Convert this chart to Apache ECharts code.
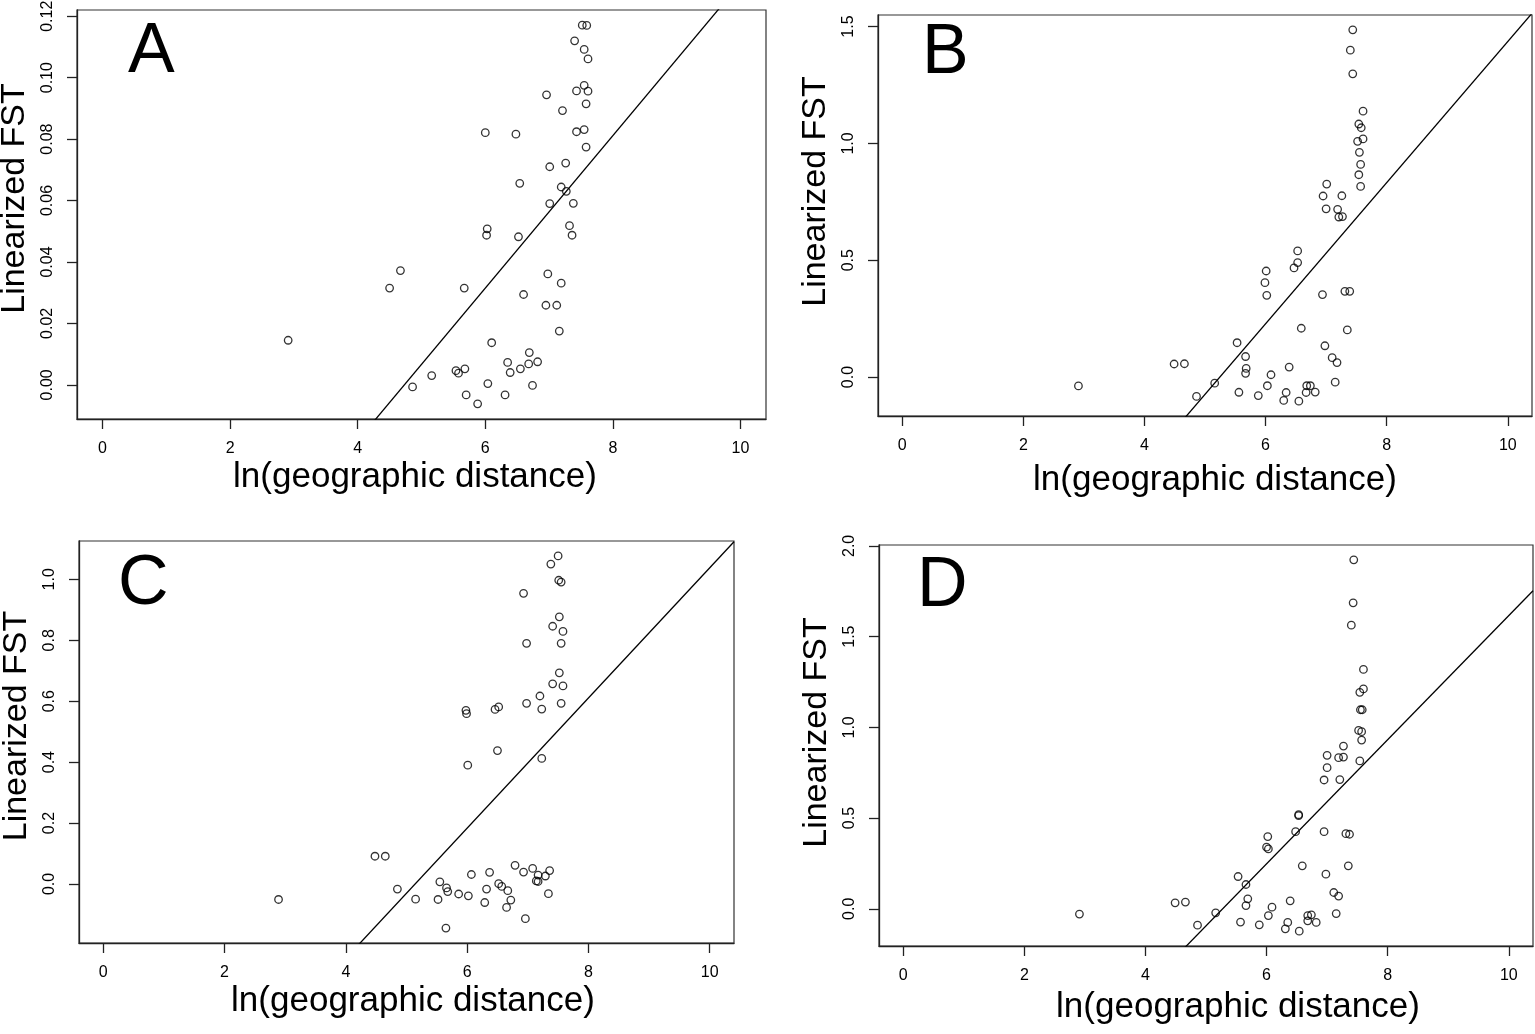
<!DOCTYPE html>
<html>
<head>
<meta charset="utf-8">
<script src="https://cdn.jsdelivr.net/npm/echarts@6/dist/echarts.min.js"></script>
<style>
	html, body { margin: 0; padding: 0; background: #fff; }
	#charts { width: 1535px; height: 1034px; }
</style>
</head>
<body>
<div id="charts"></div>
<script>
// [ln(geographic distance), linearized FST] pairs, one list per panel
const pointsA = [
	[2.91, 0.0145],
	[7.52, 0.1171], [7.59, 0.1170], [7.40, 0.1120], [7.55, 0.1092], [7.61, 0.1061],
	[7.55, 0.0975], [7.43, 0.0957], [7.61, 0.0956], [6.96, 0.0944], [7.58, 0.0915], [7.21, 0.0893],
	[6.00, 0.0821], [6.48, 0.0816], [7.43, 0.0824], [7.55, 0.0831], [7.58, 0.0774],
	[7.01, 0.0710], [7.26, 0.0722], [6.54, 0.0656], [7.19, 0.0644], [7.27, 0.0630], [7.01, 0.0590], [7.38, 0.0591],
	[6.03, 0.0508], [6.02, 0.0487], [6.52, 0.0482], [7.32, 0.0518], [7.36, 0.0487],
	[4.67, 0.0372], [4.50, 0.0315], [5.67, 0.0315], [6.98, 0.0361], [7.19, 0.0331], [6.60, 0.0294],
	[6.95, 0.0259], [7.12, 0.0259], [7.16, 0.0175],
	[6.10, 0.0137], [6.69, 0.0105], [6.35, 0.0073], [6.68, 0.0068], [6.82, 0.0075], [6.39, 0.0040],
	[6.55, 0.0052], [5.68, 0.0052], [5.54, 0.0046], [5.58, 0.0038], [5.16, 0.0030],
	[4.86, -0.0007], [6.04, 0.0004], [6.74, -0.0002], [5.70, -0.0033], [6.31, -0.0033], [5.88, -0.0062]
];
const pointsB = [
	[2.91, -0.038],
	[7.44, 1.486], [7.40, 1.399], [7.44, 1.298], [7.61, 1.138], [7.54, 1.083], [7.58, 1.067],
	[7.52, 1.009], [7.61, 1.019], [7.55, 0.962], [7.57, 0.910], [7.54, 0.866], [7.57, 0.816],
	[7.01, 0.826], [6.95, 0.775], [7.26, 0.776], [7.00, 0.720], [7.19, 0.718], [7.21, 0.685], [7.27, 0.687],
	[6.53, 0.540], [6.53, 0.490], [6.47, 0.467], [6.01, 0.454], [5.99, 0.404], [6.02, 0.350],
	[6.94, 0.353], [7.31, 0.367], [7.39, 0.367],
	[6.59, 0.209], [7.35, 0.202], [5.53, 0.147], [6.98, 0.134], [5.67, 0.088], [7.10, 0.083],
	[7.18, 0.062], [4.49, 0.056], [4.66, 0.057],
	[5.68, 0.037], [5.67, 0.016], [6.39, 0.043], [6.09, 0.010], [5.16, -0.026], [7.15, -0.022],
	[6.03, -0.037], [6.68, -0.037], [6.74, -0.037],
	[4.86, -0.083], [5.56, -0.065], [5.88, -0.079], [6.34, -0.066], [6.67, -0.066], [6.82, -0.064],
	[6.30, -0.100], [6.55, -0.103]
];
const pointsC = [
	[2.89, -0.051],
	[7.50, 1.077], [7.38, 1.050], [7.51, 0.997], [7.55, 0.991], [6.93, 0.954], [7.52, 0.877],
	[7.41, 0.846], [7.58, 0.829], [6.98, 0.790], [7.55, 0.790],
	[7.52, 0.693], [7.41, 0.657], [7.58, 0.650], [7.20, 0.617], [6.98, 0.593], [7.23, 0.574], [7.55, 0.593],
	[5.98, 0.570], [5.99, 0.559], [6.46, 0.573], [6.52, 0.581], [6.50, 0.438], [6.01, 0.390], [7.23, 0.412],
	[4.48, 0.091], [4.65, 0.091], [4.85, -0.017], [5.15, -0.050], [5.55, 0.007], [5.66, -0.013],
	[5.68, -0.025], [5.52, -0.051], [5.86, -0.033], [6.02, -0.039],
	[6.07, 0.031], [6.37, 0.038], [6.32, -0.017], [6.29, -0.061], [6.52, 0.001], [6.57, -0.008],
	[6.67, -0.022], [6.72, -0.053], [6.65, -0.077], [5.65, -0.145],
	[6.79, 0.061], [6.93, 0.039], [7.08, 0.051], [6.96, -0.114], [7.17, 0.029], [7.14, 0.010],
	[7.17, 0.008], [7.29, 0.026], [7.36, 0.044], [7.34, -0.032]
];
const pointsD = [
	[2.91, -0.029],
	[7.44, 1.923], [7.43, 1.686], [7.40, 1.563], [7.60, 1.319], [7.60, 1.212], [7.54, 1.193],
	[7.55, 1.097], [7.58, 1.097], [7.52, 0.983], [7.57, 0.976], [7.57, 0.930],
	[7.27, 0.897], [7.00, 0.846], [7.19, 0.833], [7.27, 0.836], [7.00, 0.778], [7.54, 0.815],
	[6.95, 0.710], [7.21, 0.712],
	[6.53, 0.519], [6.53, 0.514], [6.48, 0.425], [6.95, 0.425], [7.31, 0.414], [7.37, 0.411],
	[6.02, 0.398], [6.00, 0.340], [6.03, 0.330],
	[6.59, 0.237], [7.35, 0.237], [5.53, 0.178], [6.98, 0.191], [5.66, 0.134], [7.11, 0.090],
	[7.19, 0.070], [4.49, 0.033], [4.66, 0.037],
	[5.69, 0.055], [5.66, 0.018], [6.39, 0.044], [6.09, 0.009], [5.16, -0.022], [7.15, -0.026],
	[6.03, -0.037], [6.68, -0.037], [6.74, -0.033],
	[4.86, -0.090], [5.57, -0.073], [5.88, -0.088], [6.35, -0.075], [6.68, -0.066], [6.82, -0.075],
	[6.31, -0.110], [6.54, -0.123]
];

// regression lines (abline) per panel
const fitIntercept = [-0.1175, -1.584, -1.099, -1.804];
const fitSlope = [0.02483, 0.302, 0.2137, 0.342];

const xLimits = [0, 10];
const xTicks = [0, 2, 4, 6, 8, 10];
const yTicksA = [0, 0.02, 0.04, 0.06, 0.08, 0.10, 0.12];
const yTicksB = [0, 0.5, 1.0, 1.5];
const yTicksC = [0, 0.2, 0.4, 0.6, 0.8, 1.0];
const yTicksD = [0, 0.5, 1.0, 1.5, 2.0];
const panelLetters = ['A', 'B', 'C', 'D'];

const FONT = '"Liberation Sans", Arial, Helvetica, sans-serif';
const INK = '#333';

// placement of each panel on the page
const panels = [
	{ points: pointsA, yTicks: yTicksA, digits: 2, grid: { left: 77, top: 10, width: 689, height: 409 },
		xGap: 41, xPad: [0, 13, 0, 0], yPad: [0, 0, 0, 32], letter: [128, 53] },
	{ points: pointsB, yTicks: yTicksB, digits: 1, grid: { left: 878, top: 15, width: 654, height: 401 },
		xGap: 47, xPad: [0, 0, 0, 20], yPad: [0, 0, 0, 48], letter: [922, 54] },
	{ points: pointsC, yTicks: yTicksC, digits: 1, grid: { left: 79, top: 541, width: 655, height: 402 },
		xGap: 41, xPad: [0, 0, 0, 13], yPad: [0, 0, 0, 32], letter: [118, 585] },
	{ points: pointsD, yTicks: yTicksD, digits: 1, grid: { left: 879, top: 545, width: 654, height: 401 },
		xGap: 44, xPad: [0, 0, 0, 64], yPad: [0, 0, 0, 26], letter: [917, 587] }
];

// R style: range stretched by 4% at each end
const stretch = (lo, hi) => {
	const r = hi - lo;
	return [lo - 0.04 * r, hi + 0.04 * r];
};

const myChart = echarts.init(document.getElementById('charts'), null, { renderer: 'canvas' });

const grids = [];
const xAxes = [];
const yAxes = [];
const series = [];
const graphics = [];

const edge = { color: '#222', width: 1.3 };

echarts.util.each(panels, (p, i) => {
	const ys = p.points.map((d) => d[1]);
	const xRange = stretch(xLimits[0], xLimits[1]);
	const yRange = stretch(Math.min(...ys), Math.max(...ys));

	grids.push(Object.assign({
		show: true,
		borderColor: INK,
		borderWidth: 1.2,
		backgroundColor: 'transparent',
		containLabel: false,
		outerBoundsMode: 'none'
	}, p.grid));

	xAxes.push({
		type: 'value',
		gridIndex: i,
		position: 'bottom',
		min: xRange[0],
		max: xRange[1],
		splitLine: { show: false },
		axisLine: { show: true, onZero: false, lineStyle: edge },
		axisTick: {
			show: true,
			inside: false,
			length: 10,
			customValues: xTicks,
			lineStyle: edge
		},
		axisLabel: {
			customValues: xTicks,
			formatter: (v) => String(v),
			margin: 22,
			fontSize: 16,
			color: '#000',
			fontFamily: FONT
		},
		name: 'ln(geographic distance)',
		nameLocation: 'middle',
		nameGap: p.xGap,
		nameTextStyle: { fontSize: 35, color: '#000', fontFamily: FONT, padding: p.xPad }
	});

	yAxes.push({
		type: 'value',
		gridIndex: i,
		position: 'left',
		min: yRange[0],
		max: yRange[1],
		splitLine: { show: false },
		axisLine: { show: true, onZero: false, lineStyle: edge },
		axisTick: {
			show: true,
			inside: false,
			length: 10,
			customValues: p.yTicks,
			lineStyle: edge
		},
		axisLabel: {
			customValues: p.yTicks,
			formatter: (v) => v.toFixed(p.digits),
			rotate: 90,
			margin: 21,
			fontSize: 16,
			color: '#000',
			fontFamily: FONT
		},
		name: 'Linearized FST',
		nameLocation: 'middle',
		nameGap: 45,
		nameTextStyle: { fontSize: 34, color: '#000', fontFamily: FONT, padding: p.yPad }
	});

	series.push({
		type: 'scatter',
		xAxisIndex: i,
		yAxisIndex: i,
		symbol: 'circle',
		symbolSize: 7.5,
		silent: true,
		itemStyle: { color: 'rgba(0,0,0,0)', borderColor: '#000', borderWidth: 1.3 },
		data: p.points
	});

	const a = fitIntercept[i];
	const b = fitSlope[i];
	series.push({
		type: 'line',
		xAxisIndex: i,
		yAxisIndex: i,
		showSymbol: false,
		silent: true,
		clip: true,
		lineStyle: { color: '#000', width: 1.3 },
		data: [[xRange[0], a + b * xRange[0]], [xRange[1], a + b * xRange[1]]]
	});

	graphics.push({
		type: 'text',
		x: p.letter[0],
		y: p.letter[1],
		silent: true,
		style: {
			text: panelLetters[i],
			font: '70px ' + FONT,
			fill: '#000',
			align: 'left',
			verticalAlign: 'middle'
		}
	});
});

const option = {
	animation: false,
	backgroundColor: '#fff',
	grid: grids,
	xAxis: xAxes,
	yAxis: yAxes,
	series: series,
	graphic: { elements: graphics }
};

myChart.setOption(option);
</script>
</body>
</html>
